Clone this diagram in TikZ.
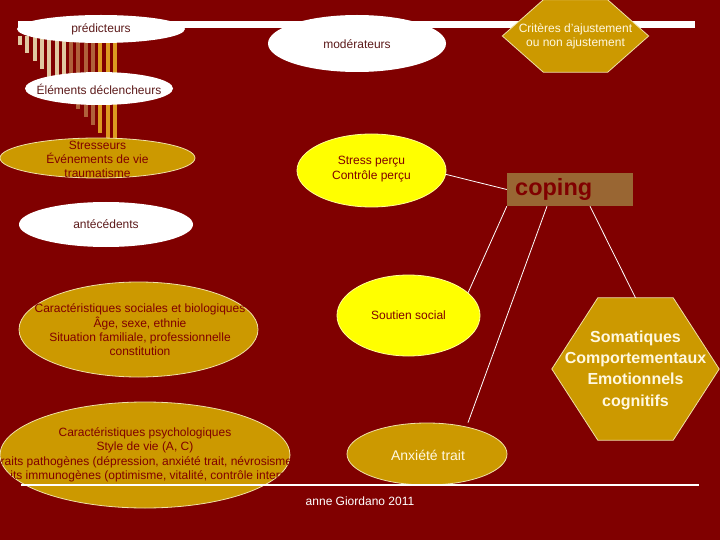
\documentclass[tikz,border=0pt]{standalone}
\usepackage{fontspec}
\setmainfont{Liberation Sans}
\usetikzlibrary{shapes.geometric,calc}
\definecolor{bg}{HTML}{800000}
\definecolor{gold}{HTML}{CC9900}
\definecolor{ylw}{HTML}{FFFF00}
\definecolor{copingc}{HTML}{996633}
\definecolor{darktxt}{HTML}{5C1A1A}
\definecolor{redtxt}{HTML}{800000}
\definecolor{lighttxt}{HTML}{FFF8E0}
\definecolor{beige}{HTML}{E0C8A0}
\definecolor{sienna}{HTML}{B0603A}
\definecolor{orng}{HTML}{DC9A20}
\definecolor{goldborder}{HTML}{F0E0A8}
\definecolor{ylwborder}{HTML}{FFFF99}
\begin{document}
\begin{tikzpicture}[x=1pt,y=-1pt,
  oval/.style={ellipse, inner sep=0pt},
  whiteoval/.style={oval, fill=white},
  goldoval/.style={oval, fill=gold, draw=goldborder, line width=0.8pt},
  yellowoval/.style={oval, fill=ylw, draw=ylwborder, line width=0.8pt},
  txt/.style={align=center, inner sep=0pt, font=\fontsize{12}{14.3}\selectfont},
  link/.style={draw=white, line width=0.8pt},
  hexa/.style={fill=gold, draw=goldborder, line width=0.8pt},
  box/.style={rectangle, inner sep=0pt},
  stripe/.style={line width=4pt}
]
\fill[bg] (0,0) rectangle (720,540);
\useasboundingbox (0,0) rectangle (720,540);

% top white rule
\draw[white, line width=6.5pt] (18,24.5) -- (695,24.5);

% stripes
\foreach \i/\c in {0/beige,1/beige,2/beige,3/beige,4/beige,5/beige,6/beige,7/sienna,8/sienna,9/sienna,10/sienna,11/orng,12/orng,13/orng}
  \draw[stripe, \c] ({20+\i*7.3}, 36) -- ({20+\i*7.3}, {45+\i*8});

% predicteurs
\node[whiteoval, minimum width=168pt, minimum height=28pt] (pred) at (101,29) {};
\node[txt, text=darktxt] (pred-t) at (101,29.5) {prédicteurs};

% moderateurs
\node[whiteoval, minimum width=178pt, minimum height=57pt] (mod) at (357,43.5) {};
\node[txt, text=darktxt] (mod-t) at (357,44) {modérateurs};

% criteres hexagon
\node[box, minimum width=146pt, minimum height=72pt] (crit) at (575.5,36) {};
\filldraw[hexa] (crit.west) -- ([xshift=41pt]crit.north west) -- ([xshift=-41pt]crit.north east)
  -- (crit.east) -- ([xshift=-41pt]crit.south east) -- ([xshift=41pt]crit.south west) -- cycle;
\node[txt, text=lighttxt, font=\fontsize{12}{14}\selectfont] (crit-t) at (575.5,36) {Critères d'ajustement\\ou non ajustement};

% elements declencheurs
\node[whiteoval, minimum width=148pt, minimum height=33pt] (elem) at (99,88.5) {};
\node[txt, text=darktxt] (elem-t) at (99,89) {Éléments déclencheurs};

% stresseurs
\node[goldoval, minimum width=195pt, minimum height=40pt] (stres) at (97.5,158) {};
\node[txt, text=redtxt, font=\fontsize{12}{14}\selectfont] (stres-t) at (97.5,159) {Stresseurs\\Événements de vie\\traumatisme};

% antecedents
\node[whiteoval, minimum width=174pt, minimum height=45pt] (ante) at (106,224.5) {};
\node[txt, text=darktxt] (ante-t) at (106,224.5) {antécédents};

% stress percu
\node[yellowoval, minimum width=149pt, minimum height=73pt] (sp) at (371.5,170.5) {};
\node[txt, text=redtxt] (sp-t) at (371.5,169) {Stress perçu\\Contrôle perçu};

% coping
\node[box, fill=copingc, minimum width=126pt, minimum height=33pt] (coping) at (570,189.5) {};
\node[inner sep=0pt, anchor=west, text=redtxt, font=\fontsize{23.5}{26}\selectfont\bfseries] (coping-t) at (515,189) {coping};

% soutien social
\node[yellowoval, minimum width=143pt, minimum height=81pt] (sout) at (408.5,315.5) {};
\node[txt, text=redtxt] (sout-t) at (408.5,315.5) {Soutien social};

% somatiques hexagon
\node[box, minimum width=167pt, minimum height=142pt] (soma) at (635.5,369) {};
\filldraw[hexa] (soma.west) -- ([xshift=46pt]soma.north west) -- ([xshift=-46pt]soma.north east)
  -- (soma.east) -- ([xshift=-46pt]soma.south east) -- ([xshift=46pt]soma.south west) -- cycle;
\node[txt, text=lighttxt, font=\fontsize{16}{21.3}\selectfont\bfseries] (soma-t) at (635.5,370) {Somatiques\\Comportementaux\\Emotionnels\\cognitifs};

% caracteristiques sociales
\node[goldoval, minimum width=239pt, minimum height=95pt] (soc) at (138.5,329.5) {};
\node[txt, text=redtxt] (soc-t) at (140,330) {Caractéristiques sociales et biologiques\\Âge, sexe, ethnie\\Situation familiale, professionnelle\\constitution};

% caracteristiques psychologiques
\node[goldoval, minimum width=290pt, minimum height=106pt] (psy) at (145,455) {};
\begin{scope}
  \clip (145,455) ellipse [x radius=145pt, y radius=53pt];
  \node[txt, text=redtxt] (psy-t) at (145,454.7) {Caractéristiques psychologiques\\Style de vie (A, C)\\Traits pathogènes (dépression, anxiété trait, névrosisme)\\Traits immunogènes (optimisme, vitalité, contrôle interne)};
\end{scope}

% anxiete trait
\node[goldoval, minimum width=160pt, minimum height=62pt] (anx) at (427,454) {};
\node[txt, text=lighttxt, font=\fontsize{14}{16}\selectfont] (anx-t) at (428,455) {Anxiété trait};

% bottom rule
\draw[white, line width=2.5pt] (21,485) -- (699,485);

% author
\node[txt, text=white] (auth) at (360,501) {anne Giordano 2011};

% connectors
\draw[link] (sp.-3) -- (coping.west);
\draw[link] (coping.south west) -- (sout.21);
\draw[link] ([xshift=-23pt]coping.south) -- ([xshift=41pt]anx.north);
\draw[link] ([xshift=20pt]coping.south) -- (soma.north);
\end{tikzpicture}
\end{document}
